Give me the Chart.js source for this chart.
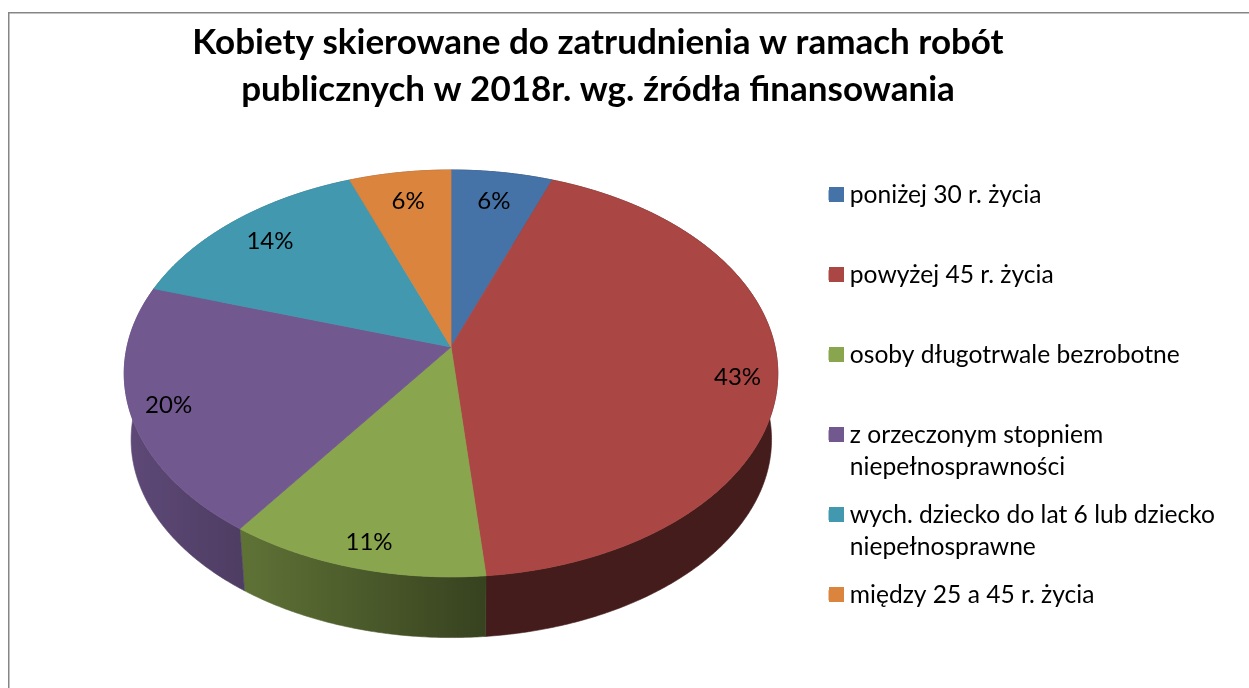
<!DOCTYPE html>
<html>
<head>
<meta charset="utf-8">
<style>html,body{margin:0;padding:0;background:#fff}canvas{display:block}</style>
<script src="https://cdn.jsdelivr.net/npm/chart.js@4/dist/chart.umd.js"></script>
</head>
<body>
<canvas id="c" width="1249" height="688"></canvas>
<script>
const titleLines = ['Kobiety skierowane do zatrudnienia w ramach robót', 'publicznych w 2018r. wg. źródła finansowania'];
const categories = [
  ['poniżej 30 r. życia', ''],
  ['powyżej 45 r. życia', ''],
  ['osoby długotrwale bezrobotne', ''],
  ['z orzeczonym stopniem', 'niepełnosprawności'],
  ['wych. dziecko do lat 6 lub dziecko', 'niepełnosprawne'],
  ['między 25 a 45 r. życia', '']
];
const shares = [5.7, 42.8, 11.4, 20.0, 14.4, 5.7];
const sliceColors = ['#4572A7', '#AA4643', '#89A54E', '#71588F', '#4198AF', '#DB843D'];
const labelRadius = [0.82, 0.88, 0.895, 0.885, 0.825, 0.82];
const labelAngleNudge = [0, 2.3, -0.6, 0, -0.2, 0];

const FONT = 'Lato';
const PIE = {cx: 451, cy: 347, radius: 200, xStretch: 1.62, persp: 0.13, vx: 467, vy: 2824, depthX: 0.98, depthY: 0.973};

function project(a, r, R) {
  const u = r * Math.cos(a), v = r * Math.sin(a), den = 1 - PIE.persp * v;
  return [PIE.cx + R * PIE.xStretch * u / den, PIE.cy + R * v / den];
}
function lower(p) {
  return [PIE.vx + PIE.depthX * (p[0] - PIE.vx), PIE.vy + PIE.depthY * (p[1] - PIE.vy)];
}
function shade(hex, f) {
  const n = parseInt(hex.slice(1), 16);
  return 'rgb(' + [(n >> 16) & 255, (n >> 8) & 255, n & 255].map(c => Math.round(c * f)).join(',') + ')';
}
function rimPoints(s, e, R) {
  const pts = [], n = Math.max(2, Math.ceil((e - s) / 0.008));
  for (let i = 0; i <= n; i++) pts.push(project(s + (e - s) * i / n, 1, R));
  return pts;
}

class Arc3D extends Chart.ArcElement {
  static id = 'arc3d';
  draw(ctx) {
    const {startAngle, endAngle, outerRadius} = this.getProps(['startAngle', 'endAngle', 'outerRadius']);
    const pts = rimPoints(startAngle, endAngle, outerRadius);
    ctx.save();
    ctx.beginPath();
    ctx.moveTo(PIE.cx, PIE.cy);
    pts.forEach(p => ctx.lineTo(p[0], p[1]));
    ctx.closePath();
    ctx.fillStyle = this.options.backgroundColor;
    ctx.strokeStyle = this.options.backgroundColor;
    ctx.lineWidth = 0.8;
    ctx.fill();
    ctx.stroke();
    ctx.restore();
  }
}
class Pie3D extends Chart.PieController {
  static id = 'pie3d';
  static defaults = {dataElementType: 'arc3d'};
}
Chart.register(Arc3D, Pie3D);

const frame = {
  id: 'frame',
  beforeDraw(chart) {
    const c = chart.ctx;
    c.save();
    c.fillStyle = '#fff';
    c.fillRect(0, 0, chart.width, chart.height);
    c.strokeStyle = '#868686';
    c.lineWidth = 1.5;
    c.strokeRect(8.75, 12.75, 1400, 900);
    c.restore();
  }
};
const walls = {
  id: 'walls',
  beforeDatasetsDraw(chart) {
    const c = chart.ctx;
    chart.getDatasetMeta(0).data.forEach((arc, i) => {
      const top = rimPoints(arc.startAngle, arc.endAngle, arc.outerRadius);
      const bottom = top.map(lower).reverse();
      const g = c.createLinearGradient(128, 0, 485, 0);
      g.addColorStop(0, shade(sliceColors[i], 0.83));
      g.addColorStop(1, shade(sliceColors[i], 0.40));
      c.save();
      c.beginPath();
      top.concat(bottom).forEach((p, k) => k ? c.lineTo(p[0], p[1]) : c.moveTo(p[0], p[1]));
      c.closePath();
      c.fillStyle = g;
      c.strokeStyle = g;
      c.lineWidth = 0.6;
      c.fill();
      c.stroke();
      c.restore();
    });
  }
};
const sliceLabels = {
  id: 'sliceLabels',
  afterDatasetsDraw(chart) {
    const c = chart.ctx;
    c.save();
    c.font = '24px ' + FONT;
    c.fillStyle = '#000';
    c.textAlign = 'center';
    c.textBaseline = 'middle';
    chart.getDatasetMeta(0).data.forEach((arc, i) => {
      const mid = (arc.startAngle + arc.endAngle) / 2 + labelAngleNudge[i] * Math.PI / 180;
      const p = project(mid, labelRadius[i], arc.outerRadius);
      c.fillText(Math.round(shares[i]) + '%', p[0], p[1]);
    });
    c.restore();
  }
};
const swatches = {
  id: 'swatches',
  afterDraw(chart) {
    const c = chart.ctx;
    chart.legend.legendHitBoxes.forEach((b, i) => {
      c.fillStyle = sliceColors[i];
      c.fillRect(Math.round(b.left), Math.round(b.top + 4), 15, 15);
    });
  }
};

new Chart(document.getElementById('c'), {
  type: 'pie3d',
  data: {
    labels: categories,
    datasets: [{data: shares, backgroundColor: sliceColors, borderWidth: 0, radius: PIE.radius}]
  },
  plugins: [frame, walls, sliceLabels, swatches],
  options: {
    responsive: false,
    animation: false,
    layout: {padding: {left: -29, right: 24, top: 19, bottom: 0}},
    plugins: {
      tooltip: {enabled: false},
      title: {
        display: true,
        text: titleLines,
        color: '#000',
        font: {family: FONT, size: 35, weight: 'bold', lineHeight: 47 / 35},
        padding: {top: 0, bottom: 54}
      },
      legend: {
        position: 'right',
        align: 'start',
        fullSize: false,
        labels: {
          boxWidth: 9,
          boxHeight: 10,
          color: '#000',
          padding: 16,
          font: {family: FONT, size: 24.6, lineHeight: 32 / 24.6}
        }
      }
    }
  }
});
</script>
</body>
</html>
